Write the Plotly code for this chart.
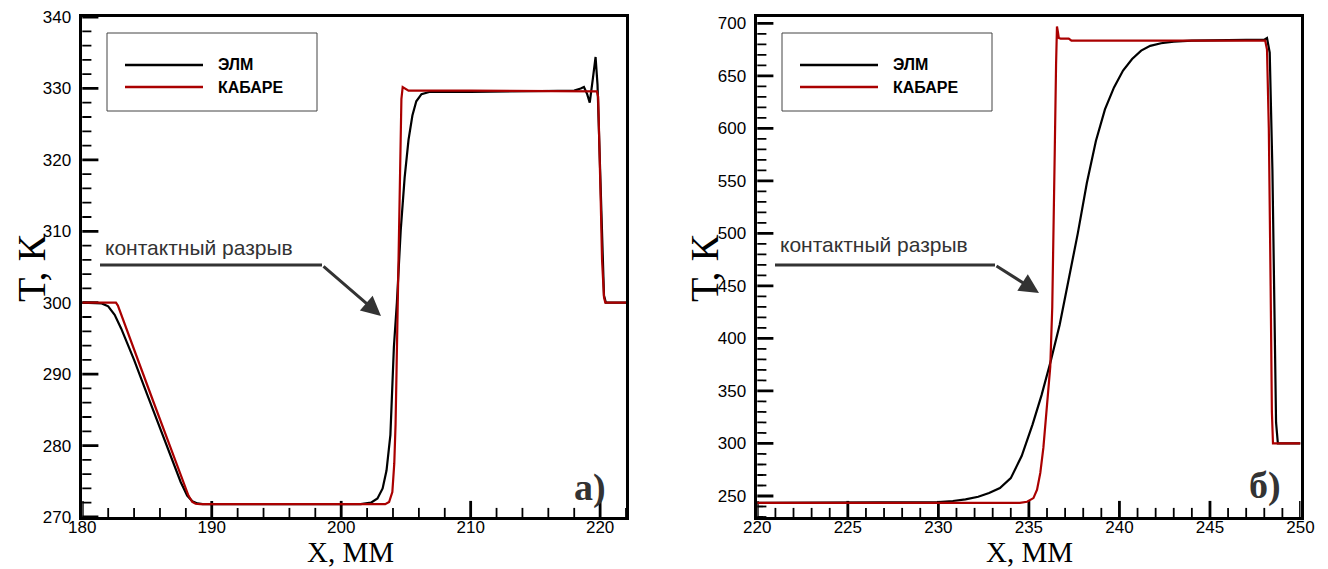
import numpy as np
import plotly.graph_objects as go

# ---------------- data: panel a) ----------------
a_elm_x = [180, 181.0, 181.5, 182.0, 182.5, 183.0, 184.0, 185.0, 186.0, 187.0, 187.6, 188.1, 188.5, 188.9, 189.3,
           189.8, 195, 201.5, 202.3, 202.8, 203.2, 203.5, 203.8, 204.07, 204.3, 204.6, 204.9, 205.2, 205.5,
           205.8, 206.2, 206.8, 210, 215, 218.0, 218.5, 218.75, 219.0, 219.2, 219.45, 219.65, 219.8, 219.95,
           220.1, 220.3, 220.45, 222]
a_elm_y = [300, 300, 299.9, 299.5, 298.3, 296.4, 292.0, 287.2, 282.4, 277.6, 274.9, 273.0, 272.2, 271.9, 271.8,
           271.8, 271.8, 271.8, 272.0, 272.6, 274.0, 276.5, 281.5, 293.8, 300.0, 310.2, 317.5, 322.8, 326.2,
           328.2, 329.2, 329.5, 329.5, 329.6, 329.7, 330.0, 330.2, 329.2, 328.0, 331.5, 334.4, 330.5, 322.0,
           312.0, 301.0, 300.0, 300]

a_kab_x = [180, 182.6, 182.75, 183.5, 184.5, 185.5, 186.5, 187.5, 188.2, 188.5, 188.75, 189.1, 195, 203.4,
           203.7, 203.95, 204.1, 204.2, 204.28, 204.36, 204.45, 204.55, 204.65, 204.75, 204.9, 205.2, 210,
           215, 219.5, 219.75, 219.85, 219.95, 220.05, 220.15, 220.3, 220.4, 222]
a_kab_y = [300, 300, 299.6, 295.8, 291.0, 286.1, 281.3, 276.4, 273.0, 272.1, 271.85, 271.8, 271.8, 271.8,
           272.1, 273.5, 277.5, 283.0, 291.0, 300.0, 312.0, 322.5, 328.5, 330.2, 330.0, 329.7, 329.7,
           329.7, 329.7, 329.6, 328.8, 323.0, 314.0, 306.0, 300.8, 300.0, 300]

# ---------------- data: panel б) ----------------
b_elm_x = [220, 227, 229, 230.0, 230.8, 231.5, 232.2, 232.8, 233.4, 234.0, 234.6, 235.2, 235.7, 236.2, 236.7,
           237.2, 237.7, 238.2, 238.7, 239.2, 239.7, 240.2, 240.7, 241.2, 241.7, 242.3, 243.0, 244, 246, 248.0,
           248.15, 248.3, 248.45, 248.55, 248.65, 248.75, 250]
b_elm_y = [243.5, 243.5, 243.7, 244.2, 245.2, 246.8, 249.3, 252.8, 257.5, 267, 288, 318, 346, 378, 413,
           455, 500, 548, 588, 618, 639, 655, 666, 674, 678.5, 681.0, 682.6, 683.5, 684, 684.5,
           686, 672, 560, 430, 320, 300, 300]

b_kab_x = [220, 234.5, 234.9, 235.25, 235.45, 235.63, 235.8, 236.0, 236.18, 236.29, 236.36, 236.43, 236.5,
           236.55, 236.6, 236.65, 236.75, 237.2, 237.35, 248.05, 248.15, 248.25, 248.35, 248.42, 248.48, 250]
b_kab_y = [243.5, 243.5, 244.5, 248, 256, 272, 296, 335, 373, 430, 494, 580, 660,
           697, 692, 686, 685.5, 685.5, 683.5, 683.5, 675, 600, 450, 330, 300, 300]

# ---------------- ticks / labels ----------------
a_xticks = [180, 190, 200, 210, 220]
a_yticks = [270, 280, 290, 300, 310, 320, 330, 340]
b_xticks = [220, 225, 230, 235, 240, 245, 250]
b_yticks = [250, 300, 350, 400, 450, 500, 550, 600, 650, 700]
a_xrange, a_yrange = [180, 222], [270, 340]
b_xrange, b_yrange = [220, 250], [230, 706]

series_names = ["ЭЛМ", "КАБАРЕ"]
panel_labels = ["а)", "б)"]
note_text = "контактный разрыв"
x_title = "Х, ММ"
y_title = "Т, К"

BLACK = "#000000"
RED = "#aa0000"
W, H = 1328, 569


def px(x):
    return x / W


def py(y):
    return 1 - y / H


fig = go.Figure()


# inward tick marks drawn as clipped line markers on the bottom and left axes
def add_ticks(xr, yr, xmaj, ymaj, xstep, ystep, xa, ya):
    xmin = [float(v) for v in np.arange(xr[0], xr[1] + 1e-9, xstep)
            if min(abs(v - m) for m in xmaj) > 1e-6]
    ymin = [float(v) for v in np.arange(yr[0] - yr[0] % ystep, yr[1] + 1e-9, ystep)
            if yr[0] <= v <= yr[1] and min(abs(v - m) for m in ymaj) > 1e-6]
    for vals, size, wd in ((xmaj, 23, 2.8), (xmin, 13, 1.8)):
        fig.add_trace(go.Scatter(x=vals, y=[yr[0]] * len(vals), mode="markers", xaxis=xa, yaxis=ya,
                                 hoverinfo="skip", cliponaxis=True,
                                 marker=dict(symbol="line-ns", size=size, color="black",
                                             line=dict(color="black", width=wd))))
    for vals, size, wd in ((ymaj, 23, 2.8), (ymin, 13, 1.8)):
        fig.add_trace(go.Scatter(x=[xr[0]] * len(vals), y=vals, mode="markers", xaxis=xa, yaxis=ya,
                                 hoverinfo="skip", cliponaxis=True,
                                 marker=dict(symbol="line-ew", size=size, color="black",
                                             line=dict(color="black", width=wd))))


add_ticks(a_xrange, a_yrange, a_xticks, a_yticks, 2, 2, "x", "y")
add_ticks(b_xrange, b_yrange, b_xticks, b_yticks, 1, 10, "x2", "y2")

fig.add_trace(go.Scatter(x=a_elm_x, y=a_elm_y, mode="lines", name=series_names[0],
                         line=dict(color=BLACK, width=2.2), xaxis="x", yaxis="y"))
fig.add_trace(go.Scatter(x=a_kab_x, y=a_kab_y, mode="lines", name=series_names[1],
                         line=dict(color=RED, width=2.2), xaxis="x", yaxis="y"))
fig.add_trace(go.Scatter(x=b_elm_x, y=b_elm_y, mode="lines", name=series_names[0],
                         line=dict(color=BLACK, width=2.2), xaxis="x2", yaxis="y2"))
fig.add_trace(go.Scatter(x=b_kab_x, y=b_kab_y, mode="lines", name=series_names[1],
                         line=dict(color=RED, width=2.2), xaxis="x2", yaxis="y2"))

font_ticks = dict(family="Liberation Sans, Arial", size=17, color="black")


def axis(domain, rng, tickvals, anchor, standoff):
    return dict(domain=domain, range=rng, tickvals=tickvals, anchor=anchor,
                showline=True, linecolor="black", linewidth=2.6, mirror=True,
                ticks="", showgrid=False, zeroline=False, automargin=False,
                ticklabelstandoff=standoff, tickfont=font_ticks)


fig.update_layout(
    template="none",
    xaxis=axis([px(82.3), px(626)], a_xrange, a_xticks, "y", -7),
    yaxis=axis([py(517), py(17)], a_yrange, a_yticks, "x", 5),
    xaxis2=axis([px(757.3), px(1300.5)], b_xrange, b_xticks, "y2", -7),
    yaxis2=axis([py(517), py(17)], b_yrange, b_yticks, "x2", 5),
    width=W, height=H, margin=dict(l=0, r=0, t=0, b=0, autoexpand=False),
    plot_bgcolor="white", paper_bgcolor="white", showlegend=False,
)

shapes = []
annotations = []

# legends (drawn as boxes with key lines)
for bx in (107, 782):
    shapes.append(dict(type="rect", xref="paper", yref="paper", x0=px(bx), x1=px(bx + 210),
                       y0=py(111), y1=py(33), line=dict(color="#444444", width=1), fillcolor="white"))
    for i, (yy, col) in enumerate(((65, BLACK), (87, RED))):
        shapes.append(dict(type="line", xref="paper", yref="paper", x0=px(bx + 18), x1=px(bx + 96),
                           y0=py(yy), y1=py(yy), line=dict(color=col, width=2.5)))
        annotations.append(dict(xref="paper", yref="paper", x=px(bx + 109), y=py(yy),
                                text="<b>%s</b>" % series_names[i],
                                showarrow=False, xanchor="left", yanchor="middle",
                                font=dict(family="Liberation Sans, Arial", size=16, color="black")))

# contact discontinuity callouts
for (tx, ty, l0, l1, ly, tipx, tipy) in ((103, 247, 100, 322, 265, 381, 316),
                                          (778, 244, 775, 995, 265, 1039, 293)):
    annotations.append(dict(xref="paper", yref="paper", x=px(tx), y=py(ty), text=note_text, showarrow=False,
                            xanchor="left", yanchor="middle",
                            font=dict(family="Liberation Sans, Arial", size=21, color="#333333")))
    shapes.append(dict(type="line", xref="paper", yref="paper", x0=px(l0), x1=px(l1), y0=py(ly), y1=py(ly),
                       line=dict(color="#333333", width=3)))
    annotations.append(dict(xref="paper", yref="paper", x=px(tipx), y=py(tipy), text="", showarrow=True,
                            ax=l1 - tipx, ay=ly - tipy, arrowhead=2, arrowsize=1.3, arrowwidth=3,
                            arrowcolor="#333333"))

# axis titles
for cx in (31, 704):
    annotations.append(dict(xref="paper", yref="paper", x=px(cx), y=py(269), text=y_title, showarrow=False,
                            textangle=-90, xanchor="center", yanchor="middle",
                            font=dict(family="Liberation Serif, Times New Roman", size=40, color="black")))
for cx in (350, 1029):
    annotations.append(dict(xref="paper", yref="paper", x=px(cx), y=py(552), text=x_title, showarrow=False,
                            xanchor="center", yanchor="middle",
                            font=dict(family="Liberation Serif, Times New Roman", size=29, color="black")))

# panel labels
for (cx, cy, t) in ((590, 487, panel_labels[0]), (1265, 485, panel_labels[1])):
    annotations.append(dict(xref="paper", yref="paper", x=px(cx), y=py(cy), text="<b>%s</b>" % t, showarrow=False,
                            xanchor="center", yanchor="middle",
                            font=dict(family="Liberation Serif, Times New Roman", size=38, color="#333333")))

fig.update_layout(shapes=shapes, annotations=annotations)
fig.write_html("out.html", config={"displayModeBar": False},
               post_script="document.body.style.margin='0';document.body.style.overflow='hidden';")
